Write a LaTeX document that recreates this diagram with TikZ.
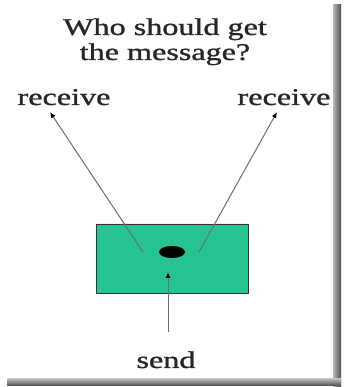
\documentclass[tikz,border=0pt]{standalone}
\usepackage{fontspec}
\setmainfont{Liberation Serif}
\newfontfamily\labelfont[FakeBold=1]{Liberation Serif}
\usetikzlibrary{arrows.meta,calc}
\usepackage{tkz-euclide}
\definecolor{BoxClr}{RGB}{38,196,146}
\definecolor{WireClr}{RGB}{110,110,110}
\tikzset{
  word/.style={font=\labelfont\fontsize{24}{25}\selectfont,text=black!85,inner sep=0pt,xscale=1.34,transform shape,align=center},
  wire/.style={WireClr,line width=1pt,-{Latex[length=6pt,width=5pt,black]}}
}

\begin{document}
\begin{tikzpicture}[x=1pt,y=1pt]
\useasboundingbox (0,0) rectangle (343,387);

% shadow of the frame
\shade[left color=gray!55,right color=black!70] (333,0) rectangle (341,382);
\shade[top color=gray!55,bottom color=black!70] (7,1) rectangle (341,8);

\tkzDefPoints{96/94/B1,248/94/B2,248/163/B3,96/163/B4}
\tkzDefPoints{143/135/L0,50/275/L1,199/135/R0,277/275/R1,168/55/S0,168/115/S1}

\tkzFillPolygon[fill=BoxClr](B1,B2,B3,B4)
\tkzDrawPolygon[line width=0.6pt,color=black!80](B1,B2,B3,B4)
\fill (172,135) ellipse (13 and 6);

\node[word,anchor=base] (title) at (165,327) {Who should get\\the message?};
\node[word,anchor=base] (recvL) at (64,282) {receive};
\node[word,anchor=base] (recvR) at (284,282) {receive};
\node[word,anchor=base] (send) at (166,19) {send};

\draw[wire] (L0) -- (L1);
\draw[wire] (R0) -- (R1);
\draw[wire] (S0) -- (S1);

\end{tikzpicture}
\end{document}
